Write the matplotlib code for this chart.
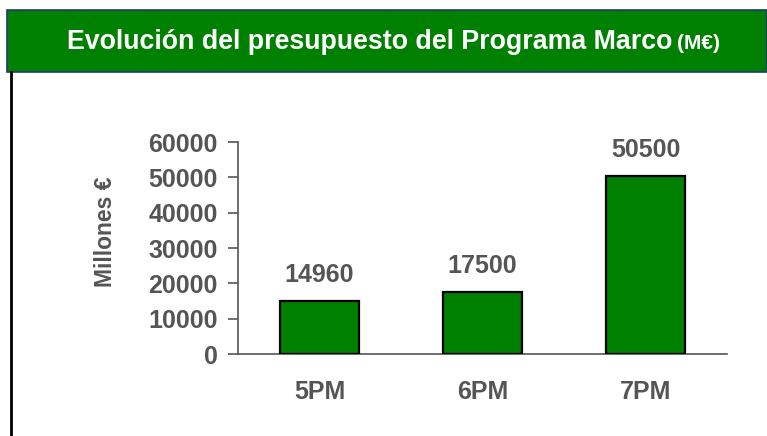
import matplotlib
matplotlib.use('Agg')
import matplotlib.pyplot as plt
from matplotlib.patches import Rectangle
from matplotlib.lines import Line2D

categories = ['5PM', '6PM', '7PM']
values = [14960, 17500, 50500]
yticks = [0, 10000, 20000, 30000, 40000, 50000, 60000]

plt.rcParams['font.family'] = ['Liberation Sans', 'DejaVu Sans']
gray = '#555555'
green = '#008000'

fig = plt.figure(figsize=(7.67, 4.36), dpi=100)
fig.patch.set_facecolor('white')

# cabecera verde
fig.patches.append(Rectangle((7/767, 1 - 72/436), 1 - 7/767, 62/436,
                             transform=fig.transFigure, facecolor=green,
                             edgecolor='#1f3a70', linewidth=1.2, zorder=0))
fig.text(67/767, 1 - 49/436, 'Evolución del presupuesto del Programa Marco',
         color='white', fontsize=19.3, fontweight='bold', va='baseline', ha='left')
fig.text(677/767, 1 - 49/436, '(M€)', color='white', fontsize=15,
         fontweight='bold', va='baseline', ha='left')
fig.lines.append(Line2D([11/767, 11/767], [0, 1 - 72/436],
                        transform=fig.transFigure, color='black', linewidth=2))

ax = fig.add_axes([238/767, 82/436, 489/767, 212/436])
x = range(len(categories))
ax.bar(x, values, width=0.49, color=green, edgecolor='black', linewidth=1.6, zorder=3)
for i, v in zip(x, values):
    ax.annotate(str(v), (i, v), xytext=(0, 13.5), textcoords='offset points',
                ha='center', va='baseline', fontsize=18, fontweight='bold', color=gray)

ax.set_xlim(-0.5, 2.5)
ax.set_ylim(0, 60000)
ax.set_yticks(yticks)
ax.set_yticklabels([str(t) for t in yticks])
ax.set_xticks(list(x))
ax.set_xticklabels(categories)
ax.tick_params(axis='x', length=0, pad=19, labelsize=18, labelcolor=gray)
ax.tick_params(axis='y', length=7.5, width=1.2, color=gray, pad=7, labelsize=18, labelcolor=gray)
for lbl in ax.get_xticklabels() + ax.get_yticklabels():
    lbl.set_fontweight('bold')
ax.spines['top'].set_visible(False)
ax.spines['right'].set_visible(False)
ax.spines['left'].set_color(gray)
ax.spines['bottom'].set_color(gray)
ax.spines['left'].set_linewidth(1.2)
ax.spines['bottom'].set_linewidth(1.2)
fig.text(106/767, 1 - 232/436, 'Millones €', rotation=90, ha='center', va='center',
         fontsize=16.5, fontweight='bold', color=gray)

fig.savefig('out.png', dpi=100)
